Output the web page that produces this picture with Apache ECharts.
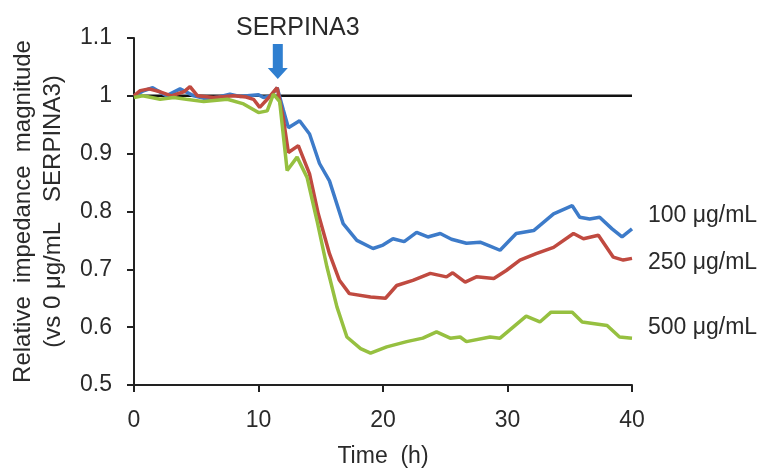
<!DOCTYPE html>
<html>
<head>
<meta charset="utf-8">
<script src="https://cdn.jsdelivr.net/npm/echarts@6/dist/echarts.min.js"></script>
<style>
  html, body { margin: 0; padding: 0; background: #fff; }
  #chart { width: 759px; height: 471px; }
</style>
</head>
<body>
<div id="chart"></div>
<script>
// hours after start
var t100 = [0, 0.7, 1.5, 2.6, 3.7, 4.8, 5.8, 6.8, 7.7, 8.5, 9.1, 10.0, 10.4, 11.0, 11.5, 12.0, 12.4, 13.3, 14.1, 14.9, 15.7, 16.8, 17.9, 19.2, 20.0, 20.8, 21.7, 22.7, 23.6, 24.6, 25.5, 26.7, 27.8, 28.5, 29.4, 30.7, 32.1, 33.7, 35.2, 35.8, 36.6, 37.4, 38.4, 39.2, 40];
var v100 = [1.0, 1.008, 1.014, 1.0, 1.012, 1.0, 0.995, 0.998, 1.003, 0.999, 1.0, 1.002, 0.997, 1.0, 1.014, 0.975, 0.945, 0.957, 0.934, 0.883, 0.853, 0.779, 0.75, 0.736, 0.742, 0.753, 0.748, 0.764, 0.756, 0.762, 0.752, 0.745, 0.747, 0.741, 0.733, 0.762, 0.767, 0.796, 0.81, 0.79, 0.787, 0.79, 0.77, 0.756, 0.77];

var t250 = [0, 0.5, 1.2, 2.1, 3.0, 4.0, 4.5, 5.1, 6.4, 8.0, 9.0, 9.6, 10.1, 10.7, 11.5, 12.0, 12.4, 13.2, 14.1, 14.8, 15.7, 16.5, 17.3, 19.0, 20.2, 21.1, 22.4, 23.8, 25.1, 25.6, 26.6, 27.5, 28.9, 29.9, 31.0, 32.3, 33.7, 35.3, 36.1, 37.3, 38.5, 39.3, 40];
var v250 = [1.0, 1.009, 1.012, 1.007, 1.0, 1.007, 1.016, 1.0, 0.997, 1.0, 0.998, 0.994, 0.98, 0.994, 1.014, 0.96, 0.902, 0.914, 0.865, 0.796, 0.727, 0.681, 0.658, 0.652, 0.65, 0.672, 0.681, 0.693, 0.687, 0.694, 0.678, 0.687, 0.684, 0.698, 0.716, 0.727, 0.738, 0.762, 0.753, 0.759, 0.721, 0.716, 0.719];

var t500 = [0, 0.7, 2.1, 3.2, 4.2, 5.6, 7.5, 8.8, 10.0, 10.7, 11.2, 11.7, 12.3, 13.1, 13.9, 14.7, 15.5, 16.3, 17.1, 18.2, 19.0, 20.3, 21.9, 23.2, 24.3, 25.4, 26.2, 26.7, 28.6, 29.4, 30.5, 31.5, 32.6, 33.5, 35.2, 36.0, 38.0, 39.0, 40];
var v500 = [0.997, 1.0, 0.994, 0.997, 0.994, 0.99, 0.994, 0.986, 0.971, 0.974, 1.003, 0.99, 0.871, 0.894, 0.859, 0.784, 0.704, 0.635, 0.583, 0.563, 0.555, 0.566, 0.575, 0.581, 0.592, 0.581, 0.583, 0.575, 0.583, 0.581, 0.601, 0.619, 0.609, 0.626, 0.626, 0.609, 0.603, 0.583, 0.581];

var doseLabels = ['100 μg/mL', '250 μg/mL', '500 μg/mL'];
var baseline = [[0, 1], [40, 1]];
var addTime = 11.55;

function pairs(t, v) {
    return t.map(function (x, i) { return [x, v[i]]; });
}

var font = 'Liberation Sans, Arial, sans-serif';
var txt = '#2a2a2a';

var myChart = echarts.init(document.getElementById('chart'));

function doseSeries(name, data, color, off) {
    return {
        name: name,
        type: 'line',
        data: data,
        symbol: 'none',
        z: 3,
        lineStyle: { color: color, width: 3.5 },
        endLabel: {
            show: true,
            formatter: name,
            color: txt,
            fontFamily: font,
            fontSize: 23,
            offset: off
        }
    };
}

var option = {
    animation: false,
    backgroundColor: '#fff',
    grid: { left: 134, right: 127, top: 38, bottom: 86, containLabel: false, outerBoundsMode: 'none' },
    xAxis: {
        type: 'value',
        min: 0,
        max: 40,
        interval: 10,
        name: 'Time  (h)',
        nameLocation: 'middle',
        nameGap: 60,
        nameTextStyle: { color: txt, fontFamily: font, fontSize: 23 },
        splitLine: { show: false },
        axisLine: { onZero: false, lineStyle: { color: '#222', width: 2 } },
        axisTick: { length: 7, lineStyle: { color: '#222', width: 2 } },
        axisLabel: { color: txt, fontFamily: font, fontSize: 23, margin: 24 }
    },
    yAxis: {
        type: 'value',
        min: 0.5,
        max: 1.1,
        interval: 0.1,
        name: 'Relative  impedance  magnitude\n(vs 0 μg/mL   SERPINA3)',
        nameLocation: 'middle',
        nameGap: 66,
        nameTextStyle: { color: txt, fontFamily: font, fontSize: 24, lineHeight: 30 },
        splitLine: { show: false },
        axisLine: { show: true, lineStyle: { color: '#222', width: 2 } },
        axisTick: { length: 7, lineStyle: { color: '#222', width: 2 } },
        axisLabel: {
            color: txt, fontFamily: font, fontSize: 23, margin: 22,
            formatter: function (v) { return String(Number(v.toFixed(1))); }
        }
    },
    series: [
        {
            type: 'line',
            data: baseline,
            symbol: 'none',
            z: 2,
            lineStyle: { color: '#111', width: 2.5 },
            markPoint: {
                symbol: 'path://M5,0 L15,0 L15,24 L20,24 L10,35 L0,24 L5,24 Z',
                symbolSize: [20, 35],
                itemStyle: { color: '#2f7fd0' },
                label: {
                    show: true,
                    position: 'top',
                    formatter: 'SERPINA3',
                    color: txt,
                    fontFamily: font,
                    fontSize: 25,
                    distance: 3,
                    offset: [20, 0]
                },
                data: [{ coord: [addTime, 1.0595] }]
            }
        },
        doseSeries(doseLabels[0], pairs(t100, v100), '#3d7bc9', [8, -13]),
        doseSeries(doseLabels[1], pairs(t250, v250), '#c04a40', [8, 4]),
        doseSeries(doseLabels[2], pairs(t500, v500), '#96c040', [8, -10])
    ]
};
myChart.setOption(option);
</script>
</body>
</html>
